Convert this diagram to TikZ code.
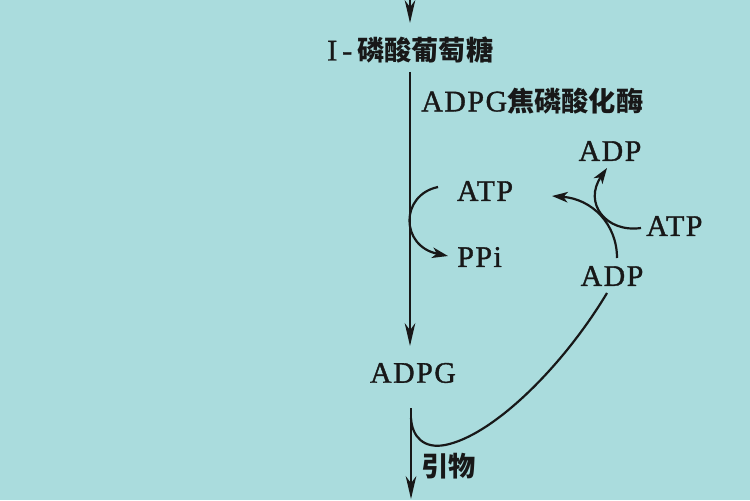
\documentclass[tikz,border=0pt]{standalone}
\usepackage{fontspec}
\setmainfont{Liberation Serif}[LetterSpace=5, FakeBold=1.2]
\newfontfamily\cjk{Noto Sans CJK SC}
\usetikzlibrary{arrows.meta}
\definecolor{paper}{RGB}{170,220,221}
\definecolor{ink}{RGB}{24,24,24}
\newcommand{\latf}{\fontsize{17}{20}\selectfont}
\newcommand{\cjkf}{\cjk\bfseries\fontsize{15.5}{18}\selectfont}
\tikzset{
  lbl/.style={inner sep=0pt, text=ink, font=\latf},
  mainarr/.style={draw=ink, line width=1.25pt, -{Stealth[length=13pt,width=6pt,inset=4pt]}},
  curvearr/.style={draw=ink, line width=1.25pt, -{Stealth[length=9pt,width=6pt,inset=2.5pt]}},
  plainline/.style={draw=ink, line width=1.25pt}
}
\begin{document}
\begin{tikzpicture}[x=0.02cm,y=-0.02cm]
\fill[paper] (0,0) rectangle (750,500);
\useasboundingbox (0,0) rectangle (750,500);

% labels
\node[lbl, anchor=west] (n1) at (327,50) {I\,-\,{\cjkf 磷酸葡萄糖}};
\node[lbl, anchor=west] (enz) at (421,101) {ADPG{\cjkf 焦磷酸化酶}};
\node[lbl] (atpL) at (485,191) {ATP};
\node[lbl, anchor=west] (ppi) at (457,257) {PPi};
\node[lbl] (adpT) at (610,151) {ADP};
\node[lbl, anchor=west] (atpR) at (646,226) {ATP};
\node[lbl] (adpB) at (612,276) {ADP};
\node[lbl] (adpg) at (413,373) {ADPG};
\node[lbl, anchor=west] (primer) at (421,466) {\cjkf 引物};

% coordinates for connector ends
\coordinate (t0) at (410,0);
\coordinate (t1) at (410,23);
\coordinate (s0) at (410,72);
\coordinate (s1) at (410,346);
\coordinate (b0) at (411,408);
\coordinate (b1) at (411,499);
\coordinate (join) at (411,418);
\coordinate (la0) at (438,187);
\coordinate (la1) at (448,256);
\coordinate (ra0) at (617,258);
\coordinate (ra1) at (552,196);
\coordinate (br0) at (641,228);
\coordinate (br1) at (607,168);
\coordinate (bc0) at (607,293);

% main spine
\draw[mainarr] (t0) -- (t1);
\draw[mainarr] (s0) -- (s1);
\draw[mainarr] (b0) -- (b1);

% ATP -> PPi
\draw[curvearr] (la0) .. controls (400,195) and (400,246) .. (la1);

% ADP -> ATP regeneration
\draw[curvearr] (ra0) .. controls (617,224) and (592,199) .. (ra1);
\draw[curvearr] (br0) .. controls (606,233) and (583,203) .. (br1);

% ADP back to primer
\draw[plainline] (bc0) .. controls (562,368) and (492,436) .. (445,445)
                 .. controls (424,449) and (412,437) .. (join);
\end{tikzpicture}
\end{document}
